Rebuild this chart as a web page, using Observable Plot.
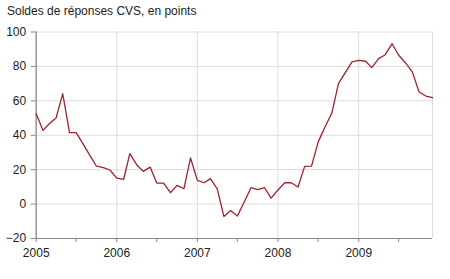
<!DOCTYPE html>
<html>
<head>
<meta charset="utf-8">
<script src="https://cdn.jsdelivr.net/npm/d3@7"></script>
<script src="https://cdn.jsdelivr.net/npm/@observablehq/plot@0.6"></script>
<style>
  body { margin: 0; background: #fff; }
  #title { font: 12px "Liberation Sans", Arial, sans-serif; color: #222; height: 20px; line-height: 20px; padding: 1px 0 0 7px; box-sizing: border-box; white-space: nowrap; }
  #chart svg { display: block; }
</style>
</head>
<body>
<div id="title">Soldes de réponses CVS, en points</div>
<div id="chart"></div>
<script>
const years = [2005, 2006, 2007, 2008, 2009];
const v2005 = [52.5, 42.8, 46.7, 50, 64.2, 41.5, 41.5, 35, 28.3, 22, 21.2, 19.8];
const v2006 = [15.1, 14.3, 29.3, 22.9, 19, 21.5, 12.2, 12.2, 6.6, 10.9, 8.9, 26.8];
const v2007 = [13.8, 12.4, 14.8, 8.9, -7.2, -3.7, -7, 1.2, 9.5, 8.4, 9.5, 3.5];
const v2008 = [8.2, 12.4, 12.4, 9.9, 21.9, 22.1, 36, 44.8, 52.9, 70, 76.4, 82.6];
const v2009 = [83.5, 83, 79.3, 84.5, 86.8, 93.2, 86.5, 82, 76.7, 65.1, 62.8, 61.9];
const yTicks = [-20, 0, 20, 40, 60, 80, 100];
const yearLabels = ["2005", "2006", "2007", "2008", "2009"];

const series = [v2005, v2006, v2007, v2008, v2009];
const data = [];
years.forEach((yr, k) => series[k].forEach((v, m) => data.push({date: new Date(Date.UTC(yr, m, 1)), value: v})));

const start = new Date(Date.UTC(2005, 0, 1));
const end = new Date(Date.UTC(2009, 11, 1));
const yearDates = years.map(y => new Date(Date.UTC(y, 0, 1)));
const halfDates = years.map(y => new Date(Date.UTC(y, 6, 1)));

const chart = Plot.plot({
  width: 450,
  height: 259,
  marginTop: 11.5,
  marginBottom: 41,
  marginLeft: 35.7,
  marginRight: 18,
  style: { fontFamily: '"Liberation Sans", Arial, sans-serif', fontSize: "12px", background: "#fff", color: "#222" },
  x: { type: "utc", domain: [start, end], label: null },
  y: { domain: [-20, 100], label: null },
  marks: [
    Plot.gridY(yTicks, { stroke: "#dcdcdc", strokeOpacity: 1 }),
    Plot.gridX(yearDates, { stroke: "#dcdcdc", strokeOpacity: 1 }),
    Plot.ruleX([end], { stroke: "#dcdcdc" }),
    Plot.axisY(yTicks, { tickSize: 5, tickPadding: 5, stroke: "#888", fill: "#222", fontSize: 12, label: null }),
    Plot.axisX(yearDates, { tickSize: 4, tickPadding: 6, tickFormat: (d, i) => yearLabels[i], stroke: "#888", fill: "#222", fontSize: 12, label: null }),
    Plot.axisX(halfDates, { tickSize: 4, text: null, stroke: "#888", label: null }),
    Plot.ruleY([-20], { stroke: "#888" }),
    Plot.ruleX([start], { stroke: "#999", strokeWidth: 1.5 }),
    Plot.line(data, { x: "date", y: "value", stroke: "#a0232b", strokeWidth: 1.3 })
  ]
});
document.getElementById("chart").appendChild(chart);
</script>
</body>
</html>
